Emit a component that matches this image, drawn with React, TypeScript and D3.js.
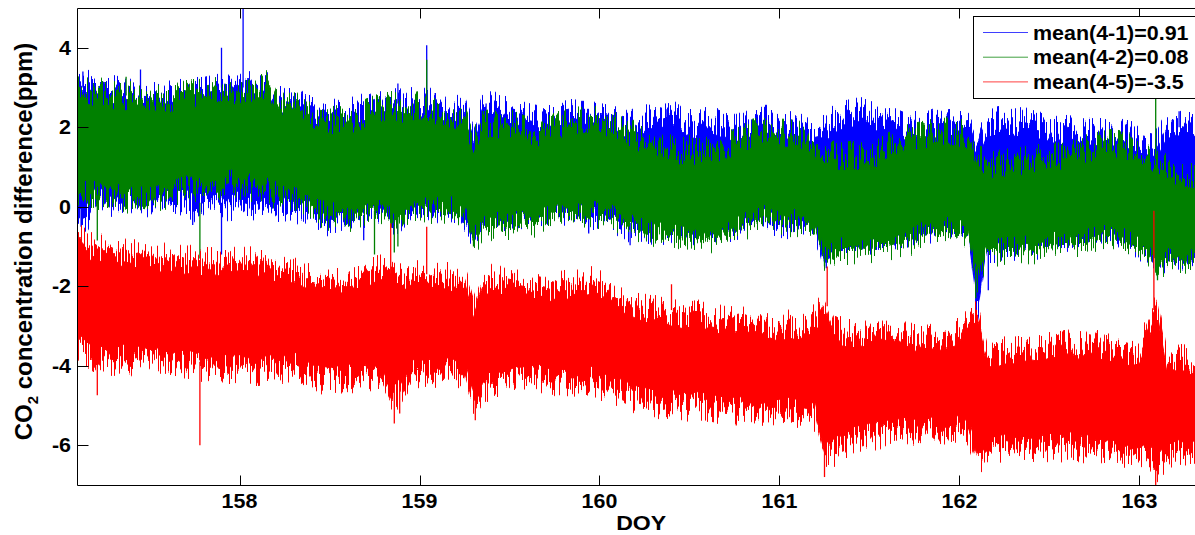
import React from "react";
import * as d3 from "d3";

// Day of year sample positions (0.05-day spacing) at which the band envelopes were read
const DOY = [
  157.1, 157.15, 157.2, 157.25, 157.3, 157.35, 157.4, 157.45, 157.5, 157.55, 157.6, 157.65, 157.7, 157.75, 157.8, 157.85, 157.9, 157.95,
  158.0, 158.05, 158.1, 158.15, 158.2, 158.25, 158.3, 158.35, 158.4, 158.45, 158.5, 158.55, 158.6, 158.65, 158.7, 158.75, 158.8, 158.85, 158.9, 158.95,
  159.0, 159.05, 159.1, 159.15, 159.2, 159.25, 159.3, 159.35, 159.4, 159.45, 159.5, 159.55, 159.6, 159.65, 159.7, 159.75, 159.8, 159.85, 159.9, 159.95,
  160.0, 160.05, 160.1, 160.15, 160.2, 160.25, 160.3, 160.35, 160.4, 160.45, 160.5, 160.55, 160.6, 160.65, 160.7, 160.75, 160.8, 160.85, 160.9, 160.95,
  161.0, 161.05, 161.1, 161.15, 161.2, 161.25, 161.3, 161.35, 161.4, 161.45, 161.5, 161.55, 161.6, 161.65, 161.7, 161.75, 161.8, 161.85, 161.9, 161.95,
  162.0, 162.05, 162.1, 162.15, 162.2, 162.25, 162.3, 162.35, 162.4, 162.45, 162.5, 162.55, 162.6, 162.65, 162.7, 162.75, 162.8, 162.85, 162.9, 162.95,
  163.0, 163.05, 163.1, 163.15, 163.2, 163.25, 163.3, 163.35,
];

// mean(4-1): upper / lower edge of the blue band
const BLUE_HI = [
  3.2, 3.1, 3.0, 2.95, 2.95, 2.9, 2.85, 2.8, 2.8, 2.75, 2.8, 2.85, 2.85, 2.9, 2.9, 2.95, 3.0, 2.95,
  3.0, 3.05, 3.0, 3.05, 2.7, 2.65, 2.6, 2.55, 2.45, 2.4, 2.35, 2.4, 2.35, 2.45, 2.5, 2.6, 2.55, 2.7, 2.6, 2.65,
  2.6, 2.65, 2.55, 2.5, 2.45, 2.45, 1.8, 2.45, 2.55, 2.5, 2.45, 2.4, 2.25, 2.2, 2.25, 2.3, 2.3, 2.35, 2.3, 2.3,
  2.25, 2.2, 2.15, 2.1, 2.1, 2.2, 2.25, 2.2, 2.3, 2.25, 2.1, 2.05, 2.2, 2.15, 2.05, 2.0, 2.0, 2.15, 2.2, 2.2,
  2.1, 2.05, 2.0, 2.05, 1.9, 1.95, 2.2, 2.3, 2.35, 2.4, 2.3, 2.25, 2.2, 2.1, 2.0, 2.05, 2.0, 2.1, 2.05, 2.1,
  2.05, 2.0, 1.5, 2.1, 2.15, 2.2, 2.1, 2.15, 2.1, 2.05, 2.0, 1.9, 1.95, 1.9, 1.85, 1.9, 1.85, 1.8, 1.85, 1.8,
  1.7, 1.65, 1.6, 2.05, 2.15, 2.1, 2.0, 2.0,
];
const BLUE_LO = [
  -0.4, -0.3, 0.15, 0.15, 0.1, 0.15, 0.1, 0.1, 0.1, 0.1, 0.15, 0.05, 0.1, -0.05, 0.0, 0.05, 0.0, 0.0,
  0.05, 0.0, -0.05, 0.05, 0.0, -0.05, -0.1, -0.05, -0.15, -0.3, -0.4, -0.35, -0.4, -0.3, -0.15, -0.1, 0.0, -0.4, -0.25, -0.05,
  0.05, 0.0, -0.05, 0.0, -0.05, -0.35, -0.7, -0.4, -0.35, -0.3, -0.35, -0.3, -0.3, -0.25, -0.2, -0.15, -0.1, -0.2, -0.25, -0.3,
  -0.25, -0.3, -0.45, -0.55, -0.45, -0.55, -0.6, -0.6, -0.55, -0.6, -0.65, -0.6, -0.65, -0.6, -0.55, -0.5, -0.4, -0.3, -0.2, -0.35,
  -0.45, -0.45, -0.3, -0.35, -0.5, -1.45, -1.1, -1.0, -1.0, -0.95, -1.0, -0.9, -0.9, -0.85, -0.8, -0.75, -0.6, -0.55, -0.5, -0.5,
  -0.55, -0.6, -2.55, -1.05, -1.05, -1.0, -1.0, -0.95, -1.0, -0.95, -0.9, -0.85, -0.85, -0.8, -0.8, -0.75, -0.7, -0.7, -0.75, -0.85,
  -1.0, -1.1, -1.5, -1.25, -1.3, -1.35, -1.3, -1.3,
];

// mean(4-2): upper / lower edge of the green band
const GREEN_HI = [
  3.05, 2.95, 2.85, 2.9, 2.8, 2.75, 2.8, 2.7, 2.65, 2.7, 2.72, 2.75, 2.82, 2.85, 2.9, 2.95, 3.0, 2.9,
  2.95, 3.0, 2.95, 3.1, 2.6, 2.55, 2.6, 2.5, 2.35, 2.2, 2.15, 2.2, 2.15, 2.2, 2.35, 2.45, 2.5, 2.55, 2.45, 2.5,
  2.55, 2.45, 2.4, 2.35, 2.3, 2.2, 1.6, 2.05, 2.1, 2.05, 2.1, 2.0, 1.9, 1.85, 1.9, 2.0, 2.1, 2.15, 2.2, 2.2,
  2.15, 2.1, 2.05, 1.9, 1.8, 1.6, 1.5, 1.5, 1.45, 1.4, 1.45, 1.35, 1.4, 1.45, 1.55, 1.6, 1.7, 1.85, 1.9, 1.95,
  1.85, 1.85, 1.8, 1.8, 1.6, 1.45, 1.3, 1.25, 1.3, 1.25, 1.3, 1.35, 1.5, 1.6, 1.7, 1.75, 1.8, 1.85, 1.9, 1.9,
  1.85, 1.8, 1.2, 1.1, 1.05, 1.1, 1.1, 1.15, 1.2, 1.25, 1.3, 1.25, 1.35, 1.4, 1.45, 1.5, 1.55, 1.6, 1.55, 1.5,
  1.3, 1.25, 1.2, 0.95, 0.9, 0.85, 0.8, 0.85,
];
const GREEN_LO = [
  0.4, 0.35, 0.3, 0.25, 0.2, 0.25, 0.15, 0.2, 0.15, 0.2, 0.25, 0.35, 0.45, 0.4, 0.45, 0.55, 0.5, 0.6,
  0.55, 0.5, 0.45, 0.4, 0.3, 0.2, 0.15, 0.2, 0.0, -0.15, -0.25, -0.2, -0.3, -0.2, -0.1, -0.15, -0.05, -0.45, -0.3, -0.1,
  0.0, -0.05, -0.1, -0.05, -0.1, -0.1, -0.85, -0.6, -0.5, -0.45, -0.5, -0.4, -0.45, -0.4, -0.35, -0.25, -0.2, -0.15, -0.2, -0.15,
  -0.2, -0.15, -0.3, -0.4, -0.5, -0.65, -0.7, -0.75, -0.7, -0.8, -0.85, -0.8, -0.85, -0.75, -0.7, -0.65, -0.5, -0.4, -0.3, -0.3,
  -0.35, -0.4, -0.4, -0.45, -0.6, -1.3, -1.2, -1.1, -1.1, -1.05, -1.1, -1.0, -1.0, -0.95, -0.9, -0.85, -0.7, -0.65, -0.6, -0.6,
  -0.65, -0.7, -1.8, -1.15, -1.15, -1.1, -1.1, -1.05, -1.1, -1.05, -1.0, -0.95, -0.95, -0.9, -0.9, -0.85, -0.8, -0.8, -0.85, -0.95,
  -1.1, -1.2, -1.6, -1.35, -1.4, -1.45, -1.4, -1.4,
];

// mean(4-5): upper / lower edge of the red band
const RED_HI = [
  -0.7, -0.95, -1.05, -1.0, -1.1, -1.15, -1.2, -1.15, -1.25, -1.3, -1.25, -1.3, -1.35, -1.3, -1.4, -1.35, -1.4, -1.35,
  -1.4, -1.35, -1.4, -1.35, -1.55, -1.6, -1.55, -1.65, -1.85, -1.9, -1.95, -1.9, -1.8, -1.75, -1.65, -1.6, -1.55, -1.6, -1.7, -1.75,
  -1.7, -1.75, -1.7, -1.75, -1.8, -1.8, -2.6, -1.9, -1.8, -1.85, -1.9, -1.95, -2.0, -1.95, -2.0, -2.05, -1.95, -2.0, -1.9, -1.85,
  -1.95, -2.1, -2.25, -2.35, -2.45, -2.55, -2.6, -2.55, -2.65, -2.7, -2.75, -2.7, -2.8, -2.85, -2.8, -2.9, -2.85, -2.95, -3.0, -2.95,
  -3.05, -2.95, -3.0, -2.9, -2.8, -2.4, -3.0, -3.15, -3.2, -3.15, -3.2, -3.25, -3.2, -3.3, -3.25, -3.3, -3.35, -3.3, -3.25, -3.2,
  -3.1, -2.8, -2.7, -3.65, -3.7, -3.6, -3.65, -3.55, -3.5, -3.55, -3.45, -3.5, -3.45, -3.5, -3.4, -3.45, -3.5, -3.55, -3.6, -3.65,
  -3.6, -3.0, -2.5, -3.75, -3.85, -3.8, -3.9, -3.85,
];
const RED_LO = [
  -3.5, -3.75, -3.9, -3.85, -3.9, -3.8, -3.9, -3.85, -3.95, -3.9, -3.95, -4.0, -3.95, -4.0, -4.05, -4.0, -4.05, -4.1,
  -4.05, -4.1, -4.15, -4.1, -4.05, -4.1, -4.0, -4.1, -4.3, -4.35, -4.4, -4.35, -4.3, -4.35, -4.25, -4.3, -4.4, -4.9, -4.6, -4.2,
  -4.2, -4.15, -4.2, -4.15, -4.2, -4.2, -5.0, -4.6, -4.5, -4.4, -4.45, -4.35, -4.4, -4.3, -4.35, -4.4, -4.45, -4.4, -4.45, -4.35,
  -4.5, -4.6, -4.65, -4.75, -4.85, -4.9, -4.95, -5.0, -4.95, -5.0, -5.05, -5.0, -5.05, -5.1, -5.05, -5.1, -5.15, -5.1, -5.15, -5.1,
  -5.2, -5.15, -5.2, -5.25, -5.3, -6.3, -6.2, -6.0, -5.9, -5.85, -5.8, -5.75, -5.7, -5.7, -5.65, -5.7, -5.6, -5.65, -5.6, -5.65,
  -5.6, -5.7, -6.4, -6.2, -6.1, -6.05, -6.1, -6.0, -6.05, -6.1, -6.05, -6.1, -6.0, -6.05, -6.1, -6.05, -6.1, -6.15, -6.2, -6.2,
  -6.25, -6.3, -6.6, -6.3, -6.2, -6.25, -6.2, -6.2,
];

// Isolated spikes: [DOY, base value, tip value]
const BLUE_SPIKES = [
  [157.13, 3.0, 3.4], [157.45, 2.8, 3.45], [157.9, 3.0, 4.0], [158.02, 3.0, 5.0], [158.88, 2.6, 3.1],
  [159.04, 2.6, 4.06], [159.37, 2.3, 2.6], [160.37, 2.1, 2.45], [163.22, 2.0, 2.4],
  [157.12, 0.0, -0.5], [157.74, 0.0, -0.46], [157.9, 0.1, -1.2], [158.69, -0.2, -0.84], [159.94, -0.2, -0.67],
  [160.17, -0.4, -0.97], [161.26, -1.2, -1.55], [162.09, -1.5, -2.6], [162.16, -1.0, -2.1],
];
const GREEN_SPIKES = [
  [157.21, 0.3, -0.85], [157.78, 0.1, -1.3], [158.75, -0.1, -1.2], [158.86, -0.3, -1.15], [158.88, -0.2, -1.0],
  [159.04, 2.5, 3.7], [157.37, 2.8, 3.27], [159.3, -0.6, -1.0], [161.25, -1.2, -1.5], [162.09, -1.5, -2.3],
  [163.09, 1.2, 2.72], [163.1, -1.3, -1.85],
];
const RED_SPIKES = [
  [157.21, -3.8, -4.74], [157.78, -3.9, -6.0], [158.84, -1.7, -0.42], [158.86, -4.5, -5.45], [158.89, -4.4, -5.2],
  [159.04, -1.7, -0.5], [159.31, -4.8, -5.37], [160.4, -2.6, -1.95], [160.76, -5.1, -5.5],
  [161.265, -2.5, -1.5], [161.25, -6.2, -6.8], [163.08, -2.6, -0.1], [163.09, -6.3, -7.0],
];

const X_TICKS = [158, 159, 160, 161, 162, 163];
const Y_TICKS = [-6, -4, -2, 0, 2, 4];
const LEGEND = ["mean(4-1)=0.91", "mean(4-2)=0.08", "mean(4-5)=-3.5"];
const COLORS = ["#0000ff", "#008000", "#ff0000"];

const FONT = "'Liberation Sans', Arial, Helvetica, sans-serif";

export default function App() {
  const L = 77.5, T = 8.5, B = 485.5, R = 1198.9;
  const x = d3.scaleLinear().domain([157.1, 163.33]).range([L, R]);
  const y = d3.scaleLinear().domain([-7, 5]).range([485, 8]);

  const band = (hi: number[], lo: number[]) =>
    d3
      .area<number>()
      .x((d) => x(d))
      .y0((_, i) => y(lo[i]))
      .y1((_, i) => y(hi[i]))
      .curve(d3.curveLinear)(DOY) as string;

  const series = [
    { hi: BLUE_HI, lo: BLUE_LO, spikes: BLUE_SPIKES, color: COLORS[0], seed: 2 },
    { hi: GREEN_HI, lo: GREEN_LO, spikes: GREEN_SPIKES, color: COLORS[1], seed: 5 },
    { hi: RED_HI, lo: RED_LO, spikes: RED_SPIKES, color: COLORS[2], seed: 9 },
  ];

  return (
    <>
      <style>{"body{margin:0;background:#fff}"}</style>
      <svg width={1195} height={535} style={{ display: "block", fontFamily: FONT }}>
        <rect x={0} y={0} width={1195} height={535} fill="#fff" />
        <defs>
          <clipPath id="plotclip">
            <rect x={L} y={T - 0.5} width={R - L} height={B - T} />
          </clipPath>
          {series.map((s, si) => (
            <filter
              key={si}
              id={`rag${si}`}
              filterUnits="userSpaceOnUse"
              x={0}
              y={0}
              width={1250}
              height={535}
              colorInterpolationFilters="sRGB"
            >
              <feTurbulence type="fractalNoise" baseFrequency="0.7 0.004" numOctaves={2} seed={s.seed} result="n" />
              <feColorMatrix
                in="n"
                type="matrix"
                values="0 0 0 0 0.5  2.6 0 0 0 -0.8  0 0 0 0 0  0 0 0 0 1"
                result="m"
              />
              <feDisplacementMap in="SourceGraphic" in2="m" scale={28} xChannelSelector="R" yChannelSelector="G" />
            </filter>
          ))}
        </defs>
        <g clipPath="url(#plotclip)">
          {series.map((s, si) => (
            <g key={si}>
              <path d={band(s.hi, s.lo)} fill={s.color} stroke={s.color} strokeWidth={1} filter={`url(#rag${si})`} />
              {s.spikes.map((sp, k) => (
                <line
                  key={k}
                  x1={x(sp[0])}
                  x2={x(sp[0])}
                  y1={y(sp[1])}
                  y2={y(sp[2])}
                  stroke={s.color}
                  strokeWidth={1.3}
                />
              ))}
            </g>
          ))}
        </g>

        {/* axes box */}
        <line x1={L} x2={L} y1={T} y2={B} stroke="#000" strokeWidth={1} />
        <line x1={L} x2={1195} y1={T} y2={T} stroke="#000" strokeWidth={1} />
        <line x1={L} x2={1195} y1={B} y2={B} stroke="#000" strokeWidth={1} />

        {X_TICKS.map((t) => (
          <g key={t}>
            <line x1={Math.round(x(t)) + 0.5} x2={Math.round(x(t)) + 0.5} y1={B} y2={B - 10} stroke="#000" />
            <line x1={Math.round(x(t)) + 0.5} x2={Math.round(x(t)) + 0.5} y1={T} y2={T + 10} stroke="#000" />
            <text
              transform={`translate(${x(t)},508) scale(1.1,1)`}
              textAnchor="middle"
              fontSize={19.5}
              fontWeight="bold"
              fill="#000"
            >
              {t}
            </text>
          </g>
        ))}
        {Y_TICKS.map((t) => (
          <g key={t}>
            <line x1={L} x2={L + 11} y1={Math.round(y(t)) + 0.5} y2={Math.round(y(t)) + 0.5} stroke="#000" />
            <text
              transform={`translate(71,${y(t) + 7}) scale(1.1,1)`}
              textAnchor="end"
              fontSize={19.5}
              fontWeight="bold"
              fill="#000"
            >
              {t}
            </text>
          </g>
        ))}

        <text
          transform={`translate(${(L + R) / 2 + 3},530) scale(1.1,1)`}
          textAnchor="middle"
          fontSize={21}
          fontWeight="bold"
        >
          DOY
        </text>
        <text transform="translate(32,241.5) rotate(-90)" textAnchor="middle" fontSize={24} fontWeight="bold">
          CO
          <tspan fontSize={15} dy={6}>
            2
          </tspan>
          <tspan dy={-6}> concentration difference(ppm)</tspan>
        </text>

        {/* legend */}
        <rect x={973.5} y={16.5} width={240} height={82} fill="#fff" stroke="#000" strokeWidth={1} />
        {LEGEND.map((lab, i) => (
          <g key={lab}>
            <line x1={983} x2={1028} y1={32.5 + i * 24.7} y2={32.5 + i * 24.7} stroke={COLORS[i]} strokeWidth={1} opacity={0.75} />
            <text
              transform={`translate(1033,${39.5 + i * 24.7}) scale(1.1,1)`}
              fontSize={19.5}
              fontWeight="bold"
              fill="#000"
            >
              {lab}
            </text>
          </g>
        ))}
      </svg>
    </>
  );
}
